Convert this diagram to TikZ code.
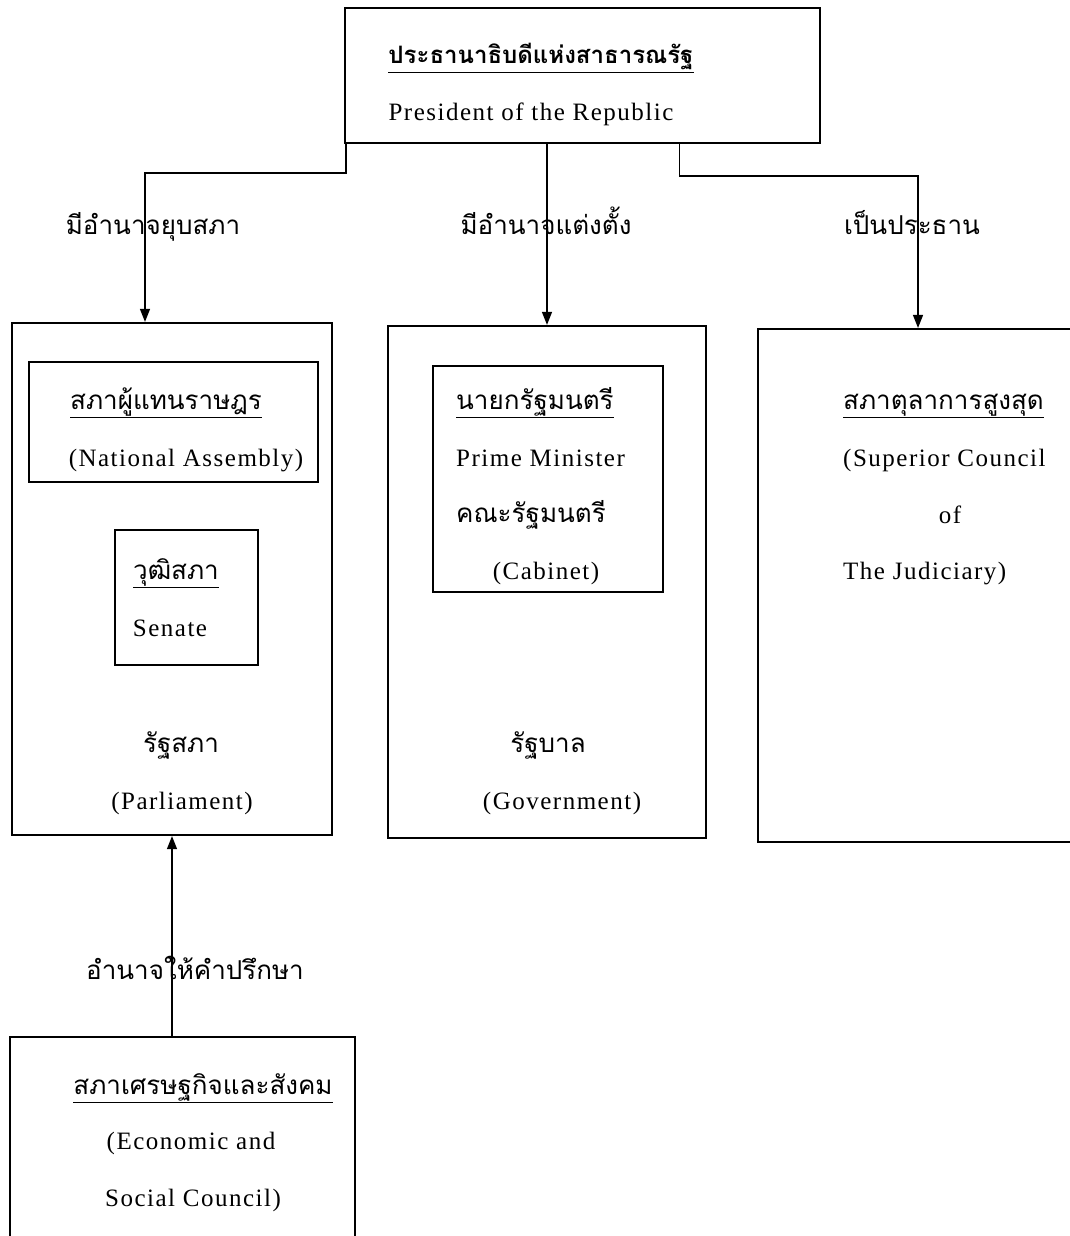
\documentclass[tikz,border=0pt]{standalone}
\usepackage{fontspec}
\setmainfont{Liberation Serif}[LetterSpace=6]
\newfontfamily\thai[Script=Thai]{Loma}
\usetikzlibrary{arrows.meta,calc}
\begin{document}
\begin{tikzpicture}[x=1pt,y=-1pt,
  box/.style={draw,line width=2.2pt,inner sep=0pt},
  ibox/.style={draw,line width=2pt,inner sep=0pt},
  conn/.style={line width=1.3pt,-{Triangle[length=13pt,width=10pt]}},
  en/.style={font=\fontsize{25}{28}\selectfont,inner sep=0pt,anchor=base},
  th/.style={font=\fontsize{26}{32}\selectfont\thai,inner sep=0pt,anchor=base}]
\useasboundingbox (0,0) rectangle (1070,1236);
\clip (0,0) rectangle (1070,1236);
% boxes
\node[box,minimum width=475pt,minimum height=135pt] (top) at (582.5,75.5) {};
\node[box,minimum width=320pt,minimum height=512pt] (parl) at (172,579) {};
\node[ibox,minimum width=289pt,minimum height=120pt] (na) at (173.5,422) {};
\node[ibox,minimum width=143pt,minimum height=135pt] (sen) at (186.5,597.5) {};
\node[box,minimum width=318pt,minimum height=512pt] (gov) at (547,582) {};
\node[ibox,minimum width=230pt,minimum height=226pt] (pm) at (548,479) {};
\node[box,minimum width=320pt,minimum height=513pt] (jud) at (918,585.5) {};
\node[box,minimum width=345pt,minimum height=263pt] (esc) at (182.5,1168.5) {};
% texts
\node[th,font=\fontsize{24}{32}\selectfont\thai\bfseries] (tTitle) at (541,64) {\underline{ประธานาธิบดีแห่งสาธารณรัฐ}};
\node[en] (tPres) at (531,121) {President of the Republic};
\node[th] (naTh) at (166,409) {\underline{สภาผู้แทนราษฎร}};
\node[en] (naEn) at (186,466) {(National Assembly)};
\node[th] (senTh) at (176,579) {\underline{วุฒิสภา}};
\node[en] (senEn) at (170,636) {Senate};
\node[th] (parlTh) at (181,752) {รัฐสภา};
\node[en] (parlEn) at (182,809) {(Parliament)};
\node[th,anchor=base west] (pmTh) at (456,409) {\underline{นายกรัฐมนตรี}};
\node[en,anchor=base west] (pmEn) at (456,466) {Prime Minister};
\node[th,anchor=base west] (cabTh) at (456,522) {คณะรัฐมนตรี};
\node[en] (cabEn) at (546,579) {(Cabinet)};
\node[th] (govTh) at (548,752) {รัฐบาล};
\node[en] (govEn) at (562,809) {(Government)};
\node[th,anchor=base west] (judTh) at (843,409) {\underline{สภาตุลาการสูงสุด}};
\node[en,anchor=base west] (judEn1) at (843,466) {(Superior Council};
\node[en] (judEn2) at (950,523) {of};
\node[en,anchor=base west] (judEn3) at (843,579) {The Judiciary)};
\node[th] (escTh) at (203,1094) {\underline{สภาเศรษฐกิจและสังคม}};
\node[en] (escEn1) at (191,1149) {(Economic and};
\node[en] (escEn2) at (193,1206) {Social Council)};
% connectors
\draw[conn] ([xshift=2pt]top.south west) -- ++(0,29) -| ([xshift=-27pt]parl.north);
\draw[conn] (top.south -| gov.north) -- (gov.north);
\draw[conn] ([xshift=97pt]top.south) -- ++(0,32) -| (jud.north);
\draw[conn] (esc.north -| parl.south) -- (parl.south);
% connector labels
\node[th] (lDiss) at (153,234) {มีอำนาจยุบสภา};
\node[th] (lAppt) at (546,234) {มีอำนาจแต่งตั้ง};
\node[th] (lChair) at (912,234) {เป็นประธาน};
\node[th] (lAdv) at (195,979) {อำนาจให้คำปรึกษา};
\end{tikzpicture}
\end{document}
